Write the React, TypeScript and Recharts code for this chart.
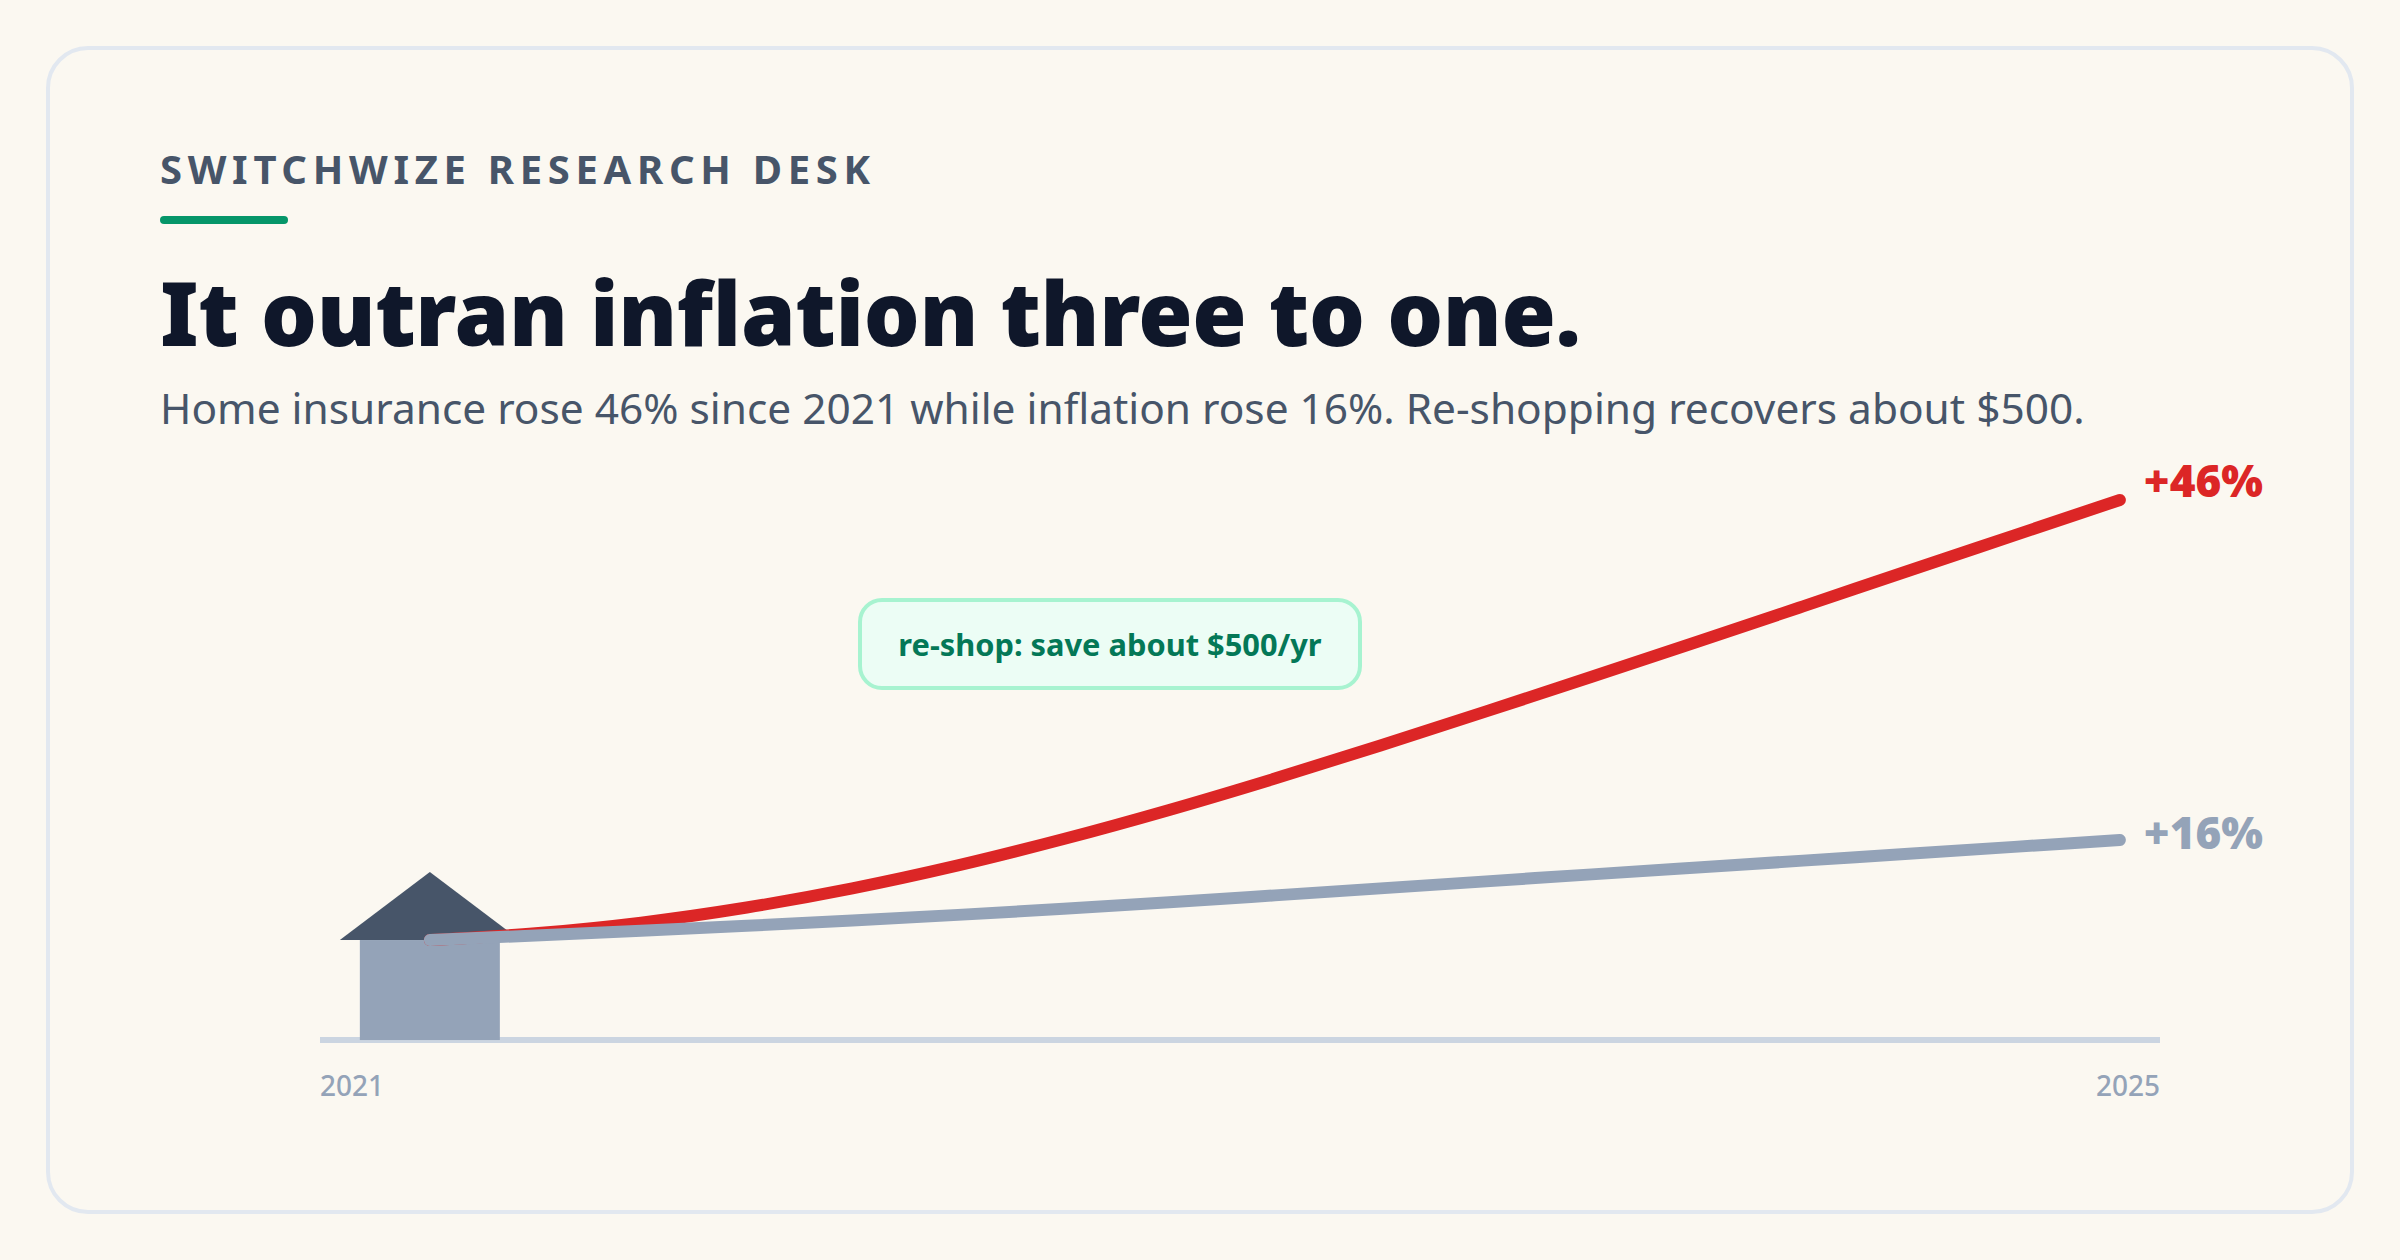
import React from "react";
import { LineChart, Line, XAxis, YAxis, ReferenceDot } from "recharts";

const years = [
  2021, 2021.25, 2021.5, 2021.75, 2022, 2022.25, 2022.5, 2022.75, 2023, 2023.25,
  2023.5, 2023.75, 2024, 2024.25, 2024.5, 2024.75, 2025,
];
const insurance = [
  0, 0.7, 1.82, 3.4, 5.4, 7.8, 10.56, 13.6, 16.88, 20.34, 23.9, 27.52, 31.18,
  34.88, 38.6, 42.3, 46,
];
const inflation = [
  0, 0.72, 1.48, 2.28, 3.12, 4.02, 5.0, 6.04, 7.14, 8.26, 9.38, 10.5, 11.6, 12.7,
  13.8, 14.9, 16,
];
const endLabels = { insurance: "+46%", inflation: "+16%" };
const tickLabels = ["2021", "2025"];

const rows = years.map((year, i) => ({
  year,
  insurance: insurance[i],
  inflation: inflation[i],
}));

// the axis line runs past both ends of the data
const xDomain = [2020.74, 2025.095];

const font = "'Noto Sans', sans-serif";

const YearTick = ({ x, y, index }: any) => (
  <text
    x={x}
    y={y + 48}
    textAnchor={index === 0 ? "start" : "end"}
    fontFamily={font}
    fontSize={28}
    fontWeight={500}
    fill="#94a3b8"
  >
    {tickLabels[index]}
  </text>
);

const EndLabel = (text: string, color: string, dy: number) => (props: any) => {
  if (props.index !== years.length - 1) return null;
  return (
    <text
      x={props.x + 24}
      y={props.y + dy}
      fontFamily={font}
      fontSize={44}
      fontWeight={900}
      fill={color}
    >
      {text}
    </text>
  );
};

const House = ({ cx, cy }: any) => (
  <g>
    <polygon
      points={`${cx - 90},${cy} ${cx},${cy - 68} ${cx + 90},${cy}`}
      fill="#475569"
    />
    <rect x={cx - 70} y={cy} width={140} height={100} fill="#94a3b8" />
  </g>
);

export default function App() {
  return (
    <div
      style={{
        position: "absolute",
        left: 0,
        top: 0,
        width: 2400,
        height: 1260,
        background: "#fbf8f1",
        overflow: "hidden",
        fontFamily: font,
      }}
    >
      <div
        style={{
          position: "absolute",
          left: 46,
          top: 46,
          width: 2300,
          height: 1160,
          border: "4px solid #e2e8f0",
          borderRadius: 42,
        }}
      />
      <div
        style={{
          position: "absolute",
          left: 160,
          top: 143,
          fontSize: 40,
          lineHeight: "52px",
          fontWeight: 700,
          letterSpacing: 5.7,
          color: "#475569",
          whiteSpace: "nowrap",
        }}
      >
        SWITCHWIZE RESEARCH DESK
      </div>
      <div
        style={{
          position: "absolute",
          left: 160,
          top: 216,
          width: 128,
          height: 8,
          borderRadius: 4,
          background: "#059669",
        }}
      />
      <div
        style={{
          position: "absolute",
          left: 160,
          top: 252,
          fontSize: 88,
          lineHeight: "120px",
          fontWeight: 900,
          letterSpacing: -0.37,
          color: "#0f172a",
          whiteSpace: "nowrap",
        }}
      >
        It outran inflation three to one.
      </div>
      <div
        style={{
          position: "absolute",
          left: 160,
          top: 379,
          fontSize: 42.4,
          lineHeight: "58px",
          fontWeight: 450,
          color: "#475569",
          whiteSpace: "nowrap",
        }}
      >
        Home insurance rose 46% since 2021 while inflation rose 16%. Re-shopping recovers about $500.
      </div>

      <div style={{ position: "absolute", left: 0, top: 0 }}>
        <LineChart
          width={2400}
          height={1260}
          data={rows}
          margin={{ top: 400, right: 240, bottom: 160, left: 320 }}
        >
          <XAxis
            dataKey="year"
            type="number"
            domain={xDomain}
            ticks={xDomain}
            height={60}
            tickLine={false}
            axisLine={{ stroke: "#cbd5e1", strokeWidth: 6 }}
            tick={<YearTick />}
            interval={0}
            zIndex={100}
          />
          <YAxis yAxisId="insurance" hide domain={[-10.45, 56.45]} />
          <YAxis yAxisId="inflation" hide domain={[-16, 86.4]} />
          <ReferenceDot
            yAxisId="insurance"
            x={2021}
            y={0}
            shape={<House />}
            ifOverflow="visible"
            zIndex={200}
          />
          <Line
            yAxisId="insurance"
            dataKey="insurance"
            type="monotone"
            stroke="#dc2626"
            strokeWidth={12}
            strokeLinecap="round"
            dot={false}
            isAnimationActive={false}
            zIndex={300}
            label={EndLabel(endLabels.insurance, "#dc2626", -3)}
          />
          <Line
            yAxisId="inflation"
            dataKey="inflation"
            type="monotone"
            stroke="#94a3b8"
            strokeWidth={12}
            strokeLinecap="round"
            dot={false}
            isAnimationActive={false}
            zIndex={310}
            label={EndLabel(endLabels.inflation, "#94a3b8", 9)}
          />
        </LineChart>
      </div>

      <div
        style={{
          position: "absolute",
          left: 858,
          top: 598,
          width: 496,
          height: 84,
          border: "4px solid #a7f3d0",
          borderRadius: 24,
          background: "#ecfdf5",
          color: "#047857",
          fontSize: 30.8,
          fontWeight: 700,
          lineHeight: "84px",
          textAlign: "center",
          whiteSpace: "nowrap",
        }}
      >
        re-shop: save about $500/yr
      </div>
    </div>
  );
}
